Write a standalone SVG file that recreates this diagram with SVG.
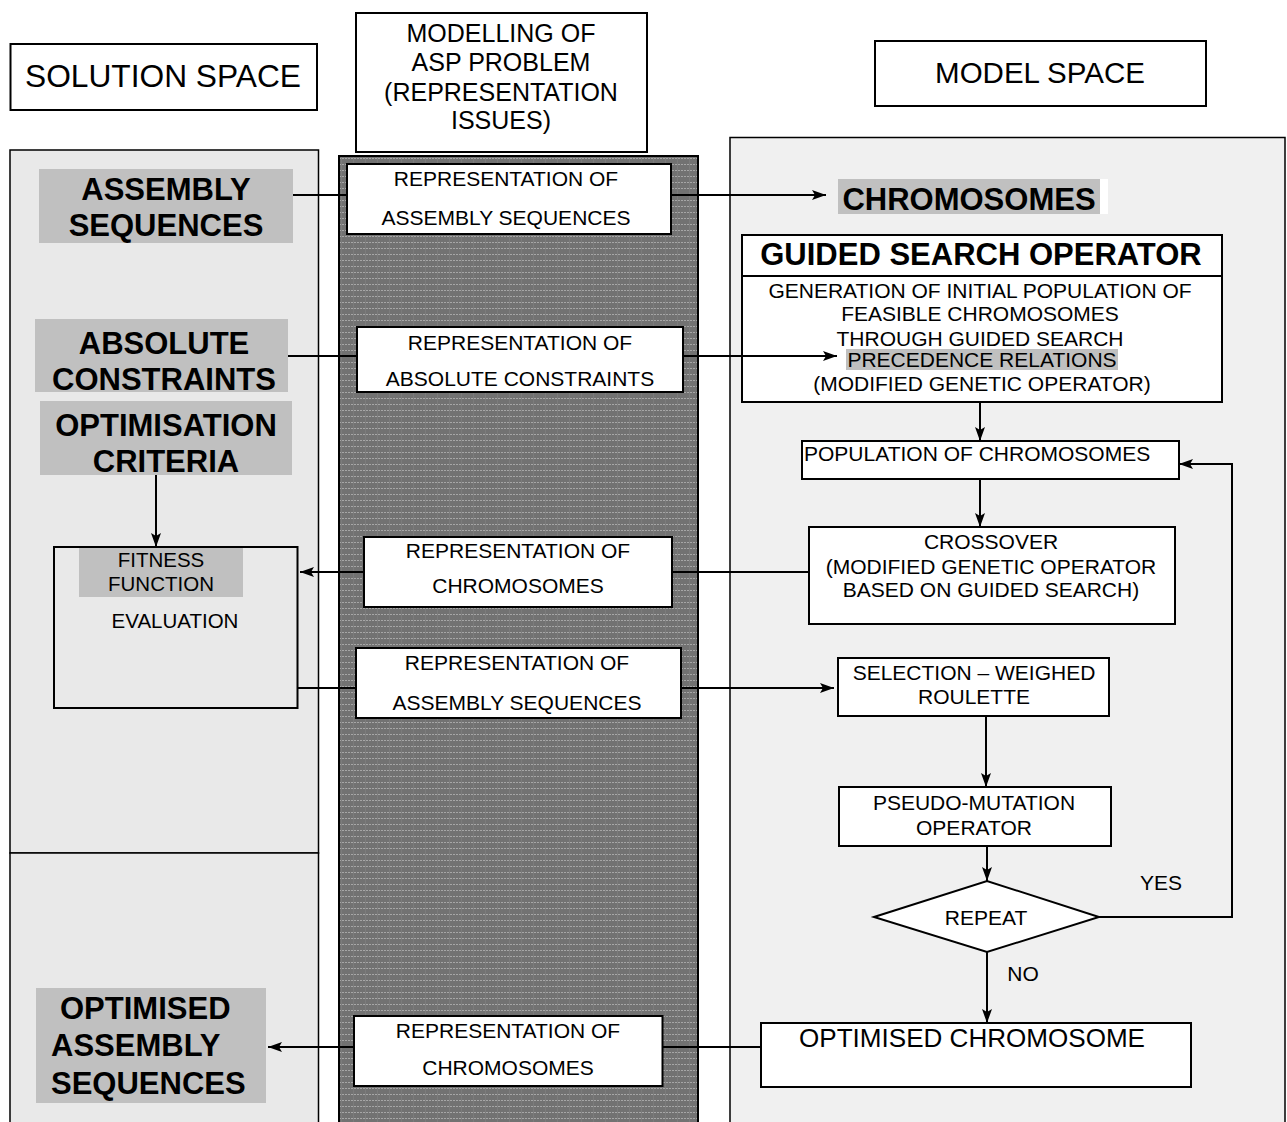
<svg xmlns="http://www.w3.org/2000/svg" width="1287" height="1122" viewBox="0 0 1287 1122">
  <style>
    text { font-family: "Liberation Sans", Arial, sans-serif; fill: #000; }
    .t { font-size: 21px; }
    .c { text-anchor: middle; }
    .b { font-weight: bold; font-size: 31px; }
    .box { fill: #fff; stroke: #000; stroke-width: 2; }
    .hl { fill: #c0c0c0; }
    .panelL { fill: #e9e9e9; stroke: #000; stroke-width: 1.5; }
    .panelR { fill: #f0f0f0; stroke: #000; stroke-width: 1.5; }
    .wire { fill: none; stroke: #000; stroke-width: 2; }
    .arr { marker-end: url(#head); }
  </style>
  <defs>
    <marker id="head" viewBox="0 0 14 10" refX="14" refY="5" markerWidth="14" markerHeight="10" markerUnits="userSpaceOnUse" orient="auto">
      <path d="M0,0 L14,5 L0,10 L3,5 Z" fill="#000"/>
    </marker>
    <!-- dotted raster texture of the central representation band -->
    <pattern id="raster" width="12" height="6" patternUnits="userSpaceOnUse">
      <rect width="12" height="6" fill="#727272"/>
      <line x1="0" y1="2.5" x2="12" y2="2.5" stroke="#a6a6a6" stroke-width="1" stroke-dasharray="2 1"/>
      <rect x="5" y="0" width="1" height="6" fill="#7c7c7c"/>
    </pattern>
  </defs>

  <rect width="1287" height="1122" fill="#fff"/>

  <!-- column backgrounds -->
  <g id="solution-space-panel">
    <rect class="panelL" x="10" y="150" width="308.5" height="703"/>
    <rect class="panelL" x="10" y="853" width="308.5" height="275"/>
  </g>
  <g id="representation-band">
    <rect x="339" y="156" width="359" height="970" fill="url(#raster)" stroke="#000" stroke-width="2"/>
  </g>
  <g id="model-space-panel">
    <rect class="panelR" x="730" y="137.5" width="555" height="990"/>
  </g>

  <!-- column headings -->
  <g id="solution-space-title">
    <rect class="box" x="10.5" y="44" width="306.5" height="66"/>
    <text class="c" x="163" y="87" font-size="31" textLength="276" lengthAdjust="spacingAndGlyphs">SOLUTION SPACE</text>
  </g>
  <g id="modelling-title">
    <rect class="box" x="356" y="13" width="291" height="139"/>
    <text class="c" x="501" y="42" font-size="25">MODELLING OF</text>
    <text class="c" x="501" y="71" font-size="25">ASP PROBLEM</text>
    <text class="c" x="501" y="101" font-size="25">(REPRESENTATION</text>
    <text class="c" x="501" y="129" font-size="25">ISSUES)</text>
  </g>
  <g id="model-space-title">
    <rect class="box" x="875" y="41" width="331" height="65"/>
    <text class="c" x="1040" y="83" font-size="29.5">MODEL SPACE</text>
  </g>

  <!-- solution space nodes -->
  <g id="assembly-sequences">
    <rect class="hl" x="39" y="169" width="254" height="74"/>
    <text class="b c" x="166" y="200">ASSEMBLY</text>
    <text class="b c" x="166" y="236">SEQUENCES</text>
  </g>
  <g id="absolute-constraints">
    <rect class="hl" x="35" y="319" width="253" height="73"/>
    <text class="b c" x="164" y="354">ABSOLUTE</text>
    <text class="b c" x="164" y="390">CONSTRAINTS</text>
  </g>
  <g id="optimisation-criteria">
    <rect class="hl" x="40" y="401" width="252" height="74"/>
    <text class="b c" x="166" y="436">OPTIMISATION</text>
    <text class="b c" x="166" y="472">CRITERIA</text>
  </g>
  <g id="fitness-evaluation">
    <rect x="54" y="547" width="243.5" height="161" fill="none" stroke="#000" stroke-width="2"/>
    <rect class="hl" x="79" y="548" width="164" height="49"/>
    <text class="c" x="161" y="567" font-size="20.5">FITNESS</text>
    <text class="c" x="161" y="591" font-size="20.5">FUNCTION</text>
    <text class="c" x="175" y="628" font-size="20.5">EVALUATION</text>
  </g>
  <g id="optimised-assembly-sequences">
    <rect class="hl" x="36" y="988" width="230" height="115"/>
    <text class="b" x="60" y="1019">OPTIMISED</text>
    <text class="b" x="51" y="1056">ASSEMBLY</text>
    <text class="b" x="51" y="1094">SEQUENCES</text>
  </g>

  <!-- representation nodes -->
  <g id="rep-assembly-sequences-1">
    <rect class="box" x="347" y="164" width="324" height="70"/>
    <text class="t c" x="506" y="185.5">REPRESENTATION OF</text>
    <text class="t c" x="506" y="224.5">ASSEMBLY SEQUENCES</text>
  </g>
  <g id="rep-absolute-constraints">
    <rect class="box" x="357" y="327" width="326" height="65"/>
    <text class="t c" x="520" y="349.5">REPRESENTATION OF</text>
    <text class="t c" x="520" y="385.5">ABSOLUTE CONSTRAINTS</text>
  </g>
  <g id="rep-chromosomes-1">
    <rect class="box" x="364" y="537" width="308" height="70"/>
    <text class="t c" x="518" y="557.5">REPRESENTATION OF</text>
    <text class="t c" x="518" y="592.5">CHROMOSOMES</text>
  </g>
  <g id="rep-assembly-sequences-2">
    <rect class="box" x="356" y="648" width="325" height="70"/>
    <text class="t c" x="517" y="669.5">REPRESENTATION OF</text>
    <text class="t c" x="517" y="709.5">ASSEMBLY SEQUENCES</text>
  </g>
  <g id="rep-chromosomes-2">
    <rect class="box" x="354" y="1016" width="308.5" height="70"/>
    <text class="t c" x="508" y="1037.5">REPRESENTATION OF</text>
    <text class="t c" x="508" y="1074.5">CHROMOSOMES</text>
  </g>

  <!-- model space nodes -->
  <g id="chromosomes">
    <rect x="838" y="179" width="270" height="35" fill="#fff"/>
    <rect class="hl" x="838" y="179" width="262" height="35"/>
    <text class="b c" x="969" y="210" font-size="32">CHROMOSOMES</text>
  </g>
  <g id="guided-search-operator">
    <rect class="box" x="742" y="235" width="480" height="167"/>
    <line x1="742" y1="276" x2="1222" y2="276" stroke="#000" stroke-width="2"/>
    <text class="b c" x="981" y="265" font-size="32.5">GUIDED SEARCH OPERATOR</text>
    <rect class="hl" x="846" y="349" width="272" height="21"/>
    <text class="t c" x="980" y="297.5">GENERATION OF INITIAL POPULATION OF</text>
    <text class="t c" x="980" y="320.5">FEASIBLE CHROMOSOMES</text>
    <text class="t c" x="980" y="345.5">THROUGH GUIDED SEARCH</text>
    <text class="t c" x="982" y="366.5">PRECEDENCE RELATIONS</text>
    <text class="t c" x="982" y="390.5">(MODIFIED GENETIC OPERATOR)</text>
  </g>
  <g id="population">
    <rect class="box" x="802" y="441" width="377" height="38"/>
    <text class="t" x="804" y="460.5">POPULATION OF CHROMOSOMES</text>
  </g>
  <g id="crossover">
    <rect class="box" x="809" y="527" width="366" height="97"/>
    <text class="t c" x="991" y="548.5">CROSSOVER</text>
    <text class="t c" x="991" y="573.5">(MODIFIED GENETIC OPERATOR</text>
    <text class="t c" x="991" y="596.5">BASED ON GUIDED SEARCH)</text>
  </g>
  <g id="selection">
    <rect class="box" x="838" y="658" width="271" height="58"/>
    <text class="t c" x="974" y="679.5">SELECTION – WEIGHED</text>
    <text class="t c" x="974" y="703.5">ROULETTE</text>
  </g>
  <g id="pseudo-mutation">
    <rect class="box" x="839" y="787" width="272" height="59"/>
    <text class="t c" x="974" y="809.5">PSEUDO-MUTATION</text>
    <text class="t c" x="974" y="834.5">OPERATOR</text>
  </g>
  <g id="repeat">
    <polygon class="box" points="874,917 987,881 1099,917 987,952"/>
    <text class="t c" x="986" y="924.5">REPEAT</text>
    <text class="t c" x="1161" y="889.5">YES</text>
    <text class="t c" x="1023" y="980.5">NO</text>
  </g>
  <g id="optimised-chromosome">
    <rect class="box" x="761" y="1023" width="430" height="64"/>
    <text class="c" x="972" y="1047" font-size="26" textLength="346" lengthAdjust="spacingAndGlyphs">OPTIMISED CHROMOSOME</text>
  </g>

  <!-- connectors (drawn last so the precedence arrow shows over its box) -->
  <g id="connectors">
    <path class="wire" d="M293,195 H347"/>
    <path class="wire arr" d="M671,195 H826"/>
    <path class="wire" d="M288,356 H357"/>
    <path class="wire arr" d="M683,356 H837"/>
    <path class="wire arr" d="M156,475 V547"/>
    <path class="wire" d="M809,572 H672"/>
    <path class="wire arr" d="M364,572 H300"/>
    <path class="wire" d="M298,688 H356"/>
    <path class="wire arr" d="M681,688 H834"/>
    <path class="wire arr" d="M980,402 V441"/>
    <path class="wire arr" d="M980,479 V527"/>
    <path class="wire arr" d="M986,716 V787"/>
    <path class="wire arr" d="M987,846 V881"/>
    <path class="wire arr" d="M1099,917 H1232 V464 H1179"/>
    <path class="wire arr" d="M987,952 V1023"/>
    <path class="wire" d="M761,1047 H662"/>
    <path class="wire arr" d="M354,1047 H268"/>
  </g>
</svg>
